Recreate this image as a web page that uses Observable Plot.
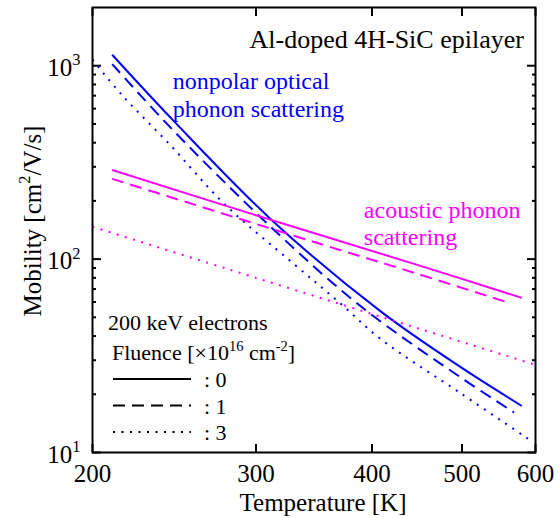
<!DOCTYPE html>
<html><head><meta charset="utf-8">
<script src="https://cdn.jsdelivr.net/npm/d3@7"></script>
<script src="https://cdn.jsdelivr.net/npm/@observablehq/plot@0.6"></script>
<style>
body{margin:0;background:#fff;}
#wrap{position:relative;width:560px;height:518px;}
#wrap svg{position:absolute;left:0;top:0;}
</style></head><body><div id="wrap"></div>
<script>
const FONT = '"Liberation Serif","Times New Roman",Times,serif';
const BLUE = "#0000ff", MAGENTA = "#ff00ff";

// Nonpolar optical phonon scattering mobility [cm2/V/s] vs T [K], fluence 0, 1, 3 (x1e16 cm-2)
const npoT0  = [210, 244, 312, 409, 498, 580];
const npoMu0 = [1140, 525, 159, 53.5, 27.7, 17.4];
const npoT1  = [210, 244, 314, 389, 498, 569];
const npoMu1 = [1020, 466, 141, 57, 24.5, 16.1];
const npoT3  = [200, 215, 243, 277, 329, 370, 409, 498, 595];
const npoMu3 = [1075, 708, 385, 194, 95, 58.9, 38.5, 20.3, 11.4];
// Acoustic phonon scattering mobility
const acT0  = [210, 312, 444, 580];
const acMu0 = [289, 159, 94.5, 63];
const acT1  = [210, 341, 444, 562];
const acMu1 = [260, 125.5, 85, 59.4];
const acT3  = [200, 300, 451, 600];
const acMu3 = [147, 80, 43.5, 28.4];

const xTicks = [200, 300, 400, 500, 600];
const xTickLabels = ["200", "300", "400", "500", "600"];
const yTicks = [10, 100, 1000];
const yTickLabels = ["10^{1}", "10^{2}", "10^{3}"];
const yMinor = [20, 30, 40, 50, 60, 70, 80, 90, 200, 300, 400, 500, 600, 700, 800, 900];
const fluences = ["0", "1", "3"];

const DASH = {"0": null, "1": "12,7", "3": "2,6.5"};

const series = [
  {T: npoT0, mu: npoMu0, color: BLUE, f: "0"},
  {T: npoT1, mu: npoMu1, color: BLUE, f: "1"},
  {T: npoT3, mu: npoMu3, color: BLUE, f: "3"},
  {T: acT0, mu: acMu0, color: MAGENTA, f: "0"},
  {T: acT1, mu: acMu1, color: MAGENTA, f: "1"},
  {T: acT3, mu: acMu3, color: MAGENTA, f: "3"}
];

const lineMarks = series.map(s => Plot.line(s.T.map((t, i) => ({T: t, mu: s.mu[i]})), {
  x: "T", y: "mu", stroke: s.color, strokeWidth: 2, curve: "catmull-rom",
  strokeDasharray: DASH[s.f], strokeLinecap: "butt"
}));

const xFmt = d => xTickLabels[xTicks.indexOf(d)];
const yFmt = d => yTickLabels[yTicks.indexOf(d)];

const plot = Plot.plot({
  width: 560, height: 518,
  marginLeft: 92, marginRight: 25, marginTop: 7, marginBottom: 66,
  style: {fontFamily: FONT, fontSize: "25px", background: "white", color: "black", overflow: "visible"},
  x: {type: "log", domain: [200, 600]},
  y: {type: "log", domain: [10, 2000]},
  marks: [
    Plot.axisX({anchor: "bottom", ticks: xTicks, tickSize: 0, tickPadding: 12, tickFormat: xFmt, label: null, fontSize: 25}),
    Plot.axisX({anchor: "bottom", ticks: xTicks, tickSize: -8, fill: "none", label: null, strokeWidth: 2}),
    Plot.axisX({anchor: "top", ticks: xTicks, tickSize: -8, fill: "none", label: null, strokeWidth: 2}),
    Plot.axisY({anchor: "left", ticks: yTicks, tickSize: 0, tickPadding: 12, tickFormat: yFmt, label: null, fontSize: 25, dy: 2}),
    Plot.axisY({anchor: "left", ticks: yTicks, tickSize: -9, fill: "none", label: null, strokeWidth: 2}),
    Plot.axisY({anchor: "left", ticks: yMinor, tickSize: -4, fill: "none", label: null, strokeWidth: 2}),
    Plot.axisY({anchor: "right", ticks: yTicks, tickSize: -9, fill: "none", label: null, strokeWidth: 2}),
    Plot.axisY({anchor: "right", ticks: yMinor, tickSize: -4, fill: "none", label: null, strokeWidth: 2}),
    ...lineMarks,
    Plot.frame({stroke: "black", strokeWidth: 2}),
    Plot.text(["Temperature [K]"], {frameAnchor: "bottom", dx: 9, dy: 58, lineAnchor: "bottom", fontSize: 25, fill: "black"}),
    Plot.text(["Mobility [cm^{2}/V/s]"], {frameAnchor: "left", dx: -52, dy: -9, rotate: -90, textAnchor: "middle", lineAnchor: "bottom", fontSize: 25, fill: "black"}),
    Plot.text([{T: 583, mu: 1239, s: "Al-doped 4H-SiC epilayer"}], {x: "T", y: "mu", text: "s", textAnchor: "end", lineAnchor: "bottom", fontSize: 26, fill: "black"}),
    Plot.text([{T: 244, mu: 542, s: "nonpolar optical\nphonon scattering"}], {x: "T", y: "mu", text: "s", textAnchor: "start", lineAnchor: "bottom", lineHeight: 1.16, fontSize: 24, fill: BLUE}),
    Plot.text([{T: 392, mu: 118, s: "acoustic phonon\nscattering"}], {x: "T", y: "mu", text: "s", textAnchor: "start", lineAnchor: "bottom", lineHeight: 1.13, fontSize: 24, fill: MAGENTA})
  ]
});

const wrap = document.getElementById("wrap");
wrap.appendChild(plot);

// Legend overlay
const NS = "http://www.w3.org/2000/svg";
const leg = d3.create("svg").attr("width", 560).attr("height", 518)
  .attr("font-family", FONT).attr("font-size", 22).style("pointer-events", "none");
leg.append("text").attr("x", 108).attr("y", 330).text("200 keV electrons");
leg.append("text").attr("x", 112).attr("y", 360).text("Fluence [\u00d710^{16} cm^{-2}]");
const rows = leg.selectAll("g.row").data(fluences).join("g").attr("class", "row")
  .attr("transform", (d, i) => `translate(0,${379 + i * 26.5})`);
rows.append("line").attr("x1", 113).attr("x2", 191).attr("y1", 0).attr("y2", 0)
  .attr("stroke", "black").attr("stroke-width", 2)
  .attr("stroke-dasharray", d => DASH[d]);
rows.append("text").attr("x", 204).attr("y", 8).text(d => ": " + d);
wrap.appendChild(leg.node());

function applySup(svg) {
  d3.select(svg).selectAll("text").each(function() {
    const t = this.textContent;
    if (!t.includes("^{")) return;
    const fs = parseFloat(getComputedStyle(this).fontSize) || 24;
    const parts = t.split(/(\^\{[^}]*\})/).filter(s => s.length);
    while (this.firstChild) this.removeChild(this.firstChild);
    let shift = 0;
    for (const p of parts) {
      const ts = document.createElementNS(NS, "tspan");
      if (p.startsWith("^{")) {
        ts.textContent = p.slice(2, -1);
        ts.setAttribute("font-size", (fs * 0.66).toFixed(1));
        const up = -fs * 0.42;
        ts.setAttribute("dy", (up - shift).toFixed(1));
        shift = up;
      } else {
        ts.textContent = p;
        if (shift) { ts.setAttribute("dy", (-shift).toFixed(1)); shift = 0; }
      }
      this.appendChild(ts);
    }
  });
}
applySup(plot);
applySup(leg.node());
</script></body></html>
